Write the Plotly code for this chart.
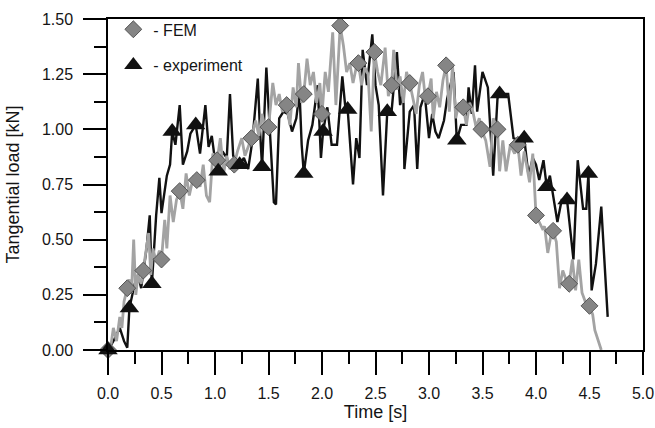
import plotly.graph_objects as go

# FEM simulation: tangential load vs time
fem_t = [0.00, 0.03, 0.05, 0.08, 0.11, 0.13, 0.15, 0.18, 0.20, 0.22, 0.24, 0.26, 0.28, 0.31,
         0.33, 0.36, 0.38, 0.40, 0.42, 0.45, 0.48, 0.50, 0.53, 0.55, 0.58, 0.61, 0.64, 0.67,
         0.70, 0.73, 0.76, 0.80, 0.83, 0.86, 0.89, 0.92, 0.95, 0.98, 1.02, 1.05, 1.08, 1.11,
         1.14, 1.18, 1.21, 1.25, 1.28, 1.31, 1.34, 1.38, 1.41, 1.44, 1.47, 1.50, 1.54, 1.57,
         1.60, 1.63, 1.67, 1.70, 1.73, 1.76, 1.78, 1.81, 1.83, 1.86, 1.89, 1.92, 1.95, 1.98,
         2.00, 2.03, 2.06, 2.10, 2.13, 2.17, 2.20, 2.23, 2.26, 2.29, 2.32, 2.34, 2.37, 2.40,
         2.43, 2.46, 2.49, 2.52, 2.55, 2.59, 2.62, 2.65, 2.67, 2.70, 2.73, 2.76, 2.79, 2.82,
         2.85, 2.88, 2.91, 2.94, 2.97, 2.99, 3.02, 3.04, 3.07, 3.10, 3.13, 3.16, 3.19, 3.22,
         3.25, 3.28, 3.32, 3.35, 3.38, 3.41, 3.44, 3.47, 3.49, 3.53, 3.57, 3.60, 3.64, 3.66,
         3.69, 3.72, 3.76, 3.80, 3.83, 3.86, 3.89, 3.92, 3.94, 3.97, 3.99, 4.00, 4.03, 4.06,
         4.08, 4.11, 4.14, 4.16, 4.19, 4.22, 4.25, 4.28, 4.31, 4.34, 4.37, 4.40, 4.43, 4.46,
         4.50, 4.53, 4.55, 4.57, 4.59, 4.61]
fem_load = [0.00, 0.03, 0.10, 0.04, 0.15, 0.10, 0.22, 0.28, 0.32, 0.26, 0.50, 0.25, 0.34, 0.30,
            0.36, 0.46, 0.53, 0.34, 0.46, 0.40, 0.45, 0.41, 0.59, 0.46, 0.70, 0.58, 0.68, 0.72,
            0.64, 0.80, 0.70, 0.79, 0.77, 0.74, 0.84, 0.70, 0.67, 0.89, 0.86, 0.96, 0.80, 0.88,
            0.82, 0.84, 0.90, 0.96, 0.88, 0.92, 0.96, 1.04, 0.97, 1.07, 1.00, 1.01, 1.21, 1.11,
            1.16, 1.08, 1.11, 1.02, 1.19, 1.10, 1.30, 1.12, 1.16, 1.32, 1.20, 1.26, 1.12, 1.21,
            1.07, 1.26, 1.17, 1.44, 1.11, 1.47, 1.38, 1.26, 1.30, 1.21, 1.28, 1.30, 1.20, 1.28,
            1.25, 0.99, 1.35, 1.26, 1.20, 1.37, 1.15, 1.20, 1.36, 1.18, 1.24, 1.12, 1.26, 1.21,
            1.14, 1.07, 1.20, 1.26, 1.12, 1.15, 1.23, 1.05, 1.17, 1.10, 1.22, 1.29, 1.08, 1.29,
            1.05, 1.12, 1.10, 1.02, 1.12, 1.08, 1.01, 1.05, 1.00, 0.95, 0.83, 1.05, 1.00, 0.81,
            0.95, 0.81, 0.93, 0.89, 0.93, 0.79, 0.90, 0.82, 0.76, 0.89, 0.68, 0.61, 0.58, 0.55,
            0.56, 0.44, 0.52, 0.54, 0.49, 0.28, 0.36, 0.32, 0.30, 0.41, 0.27, 0.41, 0.26, 0.22,
            0.20, 0.16, 0.09, 0.06, 0.03, 0.00]

# FEM marker points
fem_mark_t = [0.00, 0.18, 0.33, 0.50, 0.67, 0.83, 1.02, 1.18, 1.34, 1.50, 1.67, 1.83, 2.00, 2.17,
              2.34, 2.49, 2.65, 2.82, 2.99, 3.16, 3.32, 3.49, 3.64, 3.83, 4.00, 4.16, 4.31, 4.50]
fem_mark_load = [0.00, 0.28, 0.36, 0.41, 0.72, 0.77, 0.86, 0.84, 0.96, 1.01, 1.11, 1.16, 1.07, 1.47,
                 1.30, 1.35, 1.20, 1.21, 1.15, 1.29, 1.10, 1.00, 1.00, 0.93, 0.61, 0.54, 0.30, 0.20]

# Measured tangential load vs time
exp_t = [0.00, 0.05, 0.11, 0.15, 0.18, 0.20, 0.25, 0.28, 0.31, 0.36, 0.39, 0.41, 0.45, 0.48,
         0.50, 0.55, 0.58, 0.60, 0.63, 0.67, 0.70, 0.74, 0.77, 0.82, 0.86, 0.91, 0.94, 0.97,
         1.00, 1.03, 1.07, 1.11, 1.14, 1.17, 1.20, 1.23, 1.27, 1.31, 1.35, 1.40, 1.42, 1.44,
         1.48, 1.52, 1.55, 1.57, 1.60, 1.64, 1.68, 1.72, 1.76, 1.79, 1.81, 1.83, 1.87, 1.91,
         1.96, 1.99, 2.01, 2.05, 2.09, 2.14, 2.19, 2.22, 2.24, 2.29, 2.32, 2.35, 2.38, 2.42,
         2.47, 2.50, 2.53, 2.57, 2.61, 2.65, 2.70, 2.73, 2.76, 2.77, 2.82, 2.86, 2.89, 2.92,
         2.96, 3.00, 3.03, 3.06, 3.09, 3.14, 3.17, 3.20, 3.23, 3.26, 3.30, 3.35, 3.37, 3.40,
         3.43, 3.45, 3.50, 3.55, 3.60, 3.64, 3.66, 3.74, 3.79, 3.84, 3.89, 3.93, 3.97, 4.00,
         4.03, 4.07, 4.10, 4.13, 4.20, 4.24, 4.29, 4.35, 4.39, 4.44, 4.47, 4.49, 4.52, 4.56,
         4.61, 4.67]
exp_load = [0.00, 0.04, 0.10, 0.04, 0.01, 0.19, 0.30, 0.34, 0.28, 0.46, 0.61, 0.30, 0.61, 0.78,
            0.62, 0.79, 0.84, 0.99, 0.93, 1.11, 0.84, 0.90, 0.98, 1.02, 0.89, 1.11, 0.92, 0.97,
            0.86, 0.81, 0.90, 0.87, 1.16, 0.88, 0.86, 0.84, 0.87, 0.82, 0.95, 1.23, 1.00, 0.83,
            1.28, 0.90, 0.67, 0.66, 1.05, 1.08, 1.07, 0.99, 1.05, 1.17, 0.93, 0.80, 0.95, 1.02,
            1.20, 0.87, 0.99, 1.10, 0.93, 0.93, 1.24, 1.09, 1.09, 0.75, 0.96, 0.87, 1.36, 1.20,
            1.43, 1.20, 1.11, 0.70, 1.08, 1.08, 1.35, 1.11, 1.17, 0.82, 1.08, 1.11, 0.82, 1.10,
            1.16, 0.96, 1.07, 0.99, 0.96, 1.04, 1.14, 1.20, 1.26, 0.95, 1.02, 1.02, 1.19, 1.07,
            1.29, 1.08, 1.26, 1.19, 0.79, 1.14, 1.16, 1.16, 0.96, 0.95, 0.96, 0.79, 0.87, 0.84,
            0.77, 0.86, 0.74, 0.79, 0.58, 0.68, 0.68, 0.41, 0.86, 0.64, 0.64, 0.80, 0.27, 0.39,
            0.65, 0.15]

# Measured marker points
exp_mark_t = [0.00, 0.20, 0.41, 0.60, 0.82, 1.03, 1.23, 1.44, 1.83, 2.01, 2.24, 2.61,
              3.26, 3.66, 3.89, 4.10, 4.29, 4.49]
exp_mark_load = [0.00, 0.19, 0.30, 0.99, 1.02, 0.81, 0.84, 0.83, 0.80, 0.99, 1.09, 1.08,
                 0.95, 1.16, 0.96, 0.74, 0.68, 0.80]

FONT = "Arial, Liberation Sans, sans-serif"
TEXT = "#151515"
GRAY_LINE = "#a3a3a3"
DIAMOND_FILL = "#858585"
DIAMOND_EDGE = "#555555"

fig = go.Figure()

fig.add_trace(go.Scatter(x=exp_t, y=exp_load, mode="lines",
                         line=dict(color="#111111", width=2.4), showlegend=False))
fig.add_trace(go.Scatter(x=fem_t, y=fem_load, mode="lines",
                         line=dict(color=GRAY_LINE, width=2.8), showlegend=False))
fig.add_trace(go.Scatter(x=fem_mark_t, y=fem_mark_load, mode="markers", cliponaxis=False,
                         marker=dict(symbol="diamond", size=13, color=DIAMOND_FILL,
                                     line=dict(color=DIAMOND_EDGE, width=1)),
                         name="- FEM", legendgroup="fem"))
fig.add_trace(go.Scatter(x=exp_mark_t, y=exp_mark_load, mode="markers", cliponaxis=False,
                         marker=dict(symbol="triangle-up", size=17, color="#111111",
                                     line=dict(width=0)),
                         name="- experiment", legendgroup="exp"))

axis_common = dict(
    showline=True, linecolor="black", linewidth=1.5, mirror=True,
    ticks="outside", ticklen=23, tickwidth=1.5, tickcolor="black",
    showgrid=False, zeroline=False, automargin=False,
    tickfont=dict(family=FONT, size=16, color=TEXT),
)

fig.update_xaxes(
    range=[0, 5], tick0=0, dtick=0.5, tickformat=".1f", ticklabelstandoff=5,
    minor=dict(ticks="outside", ticklen=12, tickwidth=1.5, tickcolor="black", dtick=0.25),
    title=dict(text="Time [s]", font=dict(family=FONT, size=18, color=TEXT), standoff=4),
    **axis_common,
)
fig.update_yaxes(
    range=[0, 1.5], tick0=0, dtick=0.25, tickformat=".2f", ticklabelstandoff=7,
    minor=dict(ticks="outside", ticklen=12, tickwidth=1.5, tickcolor="black", dtick=0.125),
    title=dict(text="Tangential load [kN]", font=dict(family=FONT, size=18, color=TEXT),
               standoff=18),
    **axis_common,
)

fig.update_layout(
    width=655, height=428,
    margin=dict(l=108, r=12, t=12, b=78),
    paper_bgcolor="white", plot_bgcolor="white",
    legend=dict(x=0.01, y=1.02, xanchor="left", yanchor="top",
                font=dict(family=FONT, size=16, color=TEXT),
                bgcolor="rgba(0,0,0,0)", tracegroupgap=12, traceorder="grouped"),
)

fig.write_html("out.html")
